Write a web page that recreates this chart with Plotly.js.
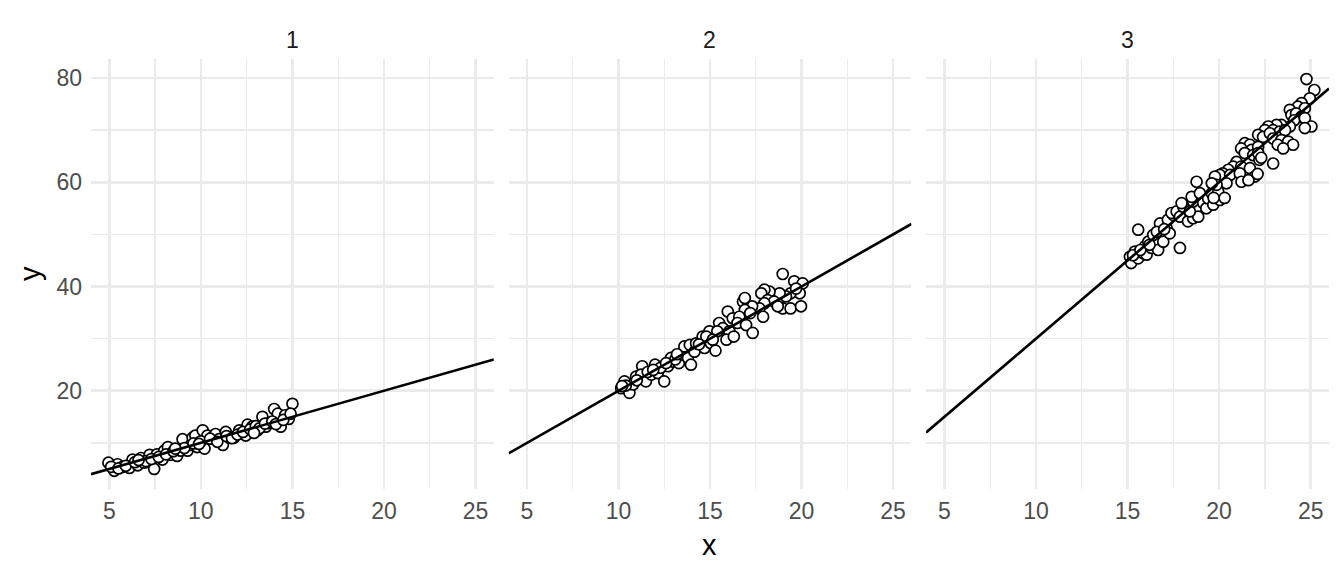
<!DOCTYPE html>
<html>
<head>
<meta charset="utf-8">
<script src="https://cdn.plot.ly/plotly-3.0.1.min.js"></script>
<style>html,body{margin:0;padding:0;background:#fff;}#chart{width:1344px;height:576px;}</style>
</head>
<body>
<div id="chart"></div>
<script>
// Facet labels and fitted line parameters
const facetLabels = ["1", "2", "3"];
const lineIntercept = [0, 0, 0];
const lineSlope = [1, 2, 3];
const xTicks = [5, 10, 15, 20, 25];
const yTicks = [20, 40, 60, 80];

// Panel 1 points
const x1 = [4.95,5.27,5.45,5.7,6.1,6.27,6.55,6.73,6.9,7.2,7.45,7.6,7.9,8.0,8.2,8.35,8.7,8.9,9.0,9.27,9.45,9.55,9.7,9.8,10.1,10.2,10.36,10.6,10.8,11.0,11.2,11.36,11.55,11.8,12.1,12.45,12.55,12.8,13.1,13.36,13.55,13.7,14.0,14.2,14.36,14.6,14.8,15.0,
  5.1,5.5,5.9,6.4,7.0,7.3,7.7,8.1,8.5,9.1,9.6,10.0,10.5,10.9,11.4,11.7,12.0,12.3,12.7,13.0,13.2,13.5,13.9,14.1,14.5,14.9,12.9,9.9,8.6,6.6];
const y1 = [6.2,4.64,5.9,5.35,5.2,6.8,5.7,7.1,6.2,7.7,5.0,7.8,6.8,8.5,9.2,7.7,7.5,8.5,10.7,8.5,9.6,11.0,11.4,9.2,12.4,8.9,11.4,11.0,11.7,10.7,9.6,12.1,11.0,11.0,12.4,11.4,13.5,13.1,12.4,15.0,13.1,13.8,16.5,15.6,13.1,15.3,14.6,17.5,
  5.4,5.1,5.6,6.3,6.5,6.9,7.3,7.8,8.4,9.0,9.9,10.3,10.8,10.2,11.3,10.9,11.6,12.1,12.6,13.2,12.8,13.7,14.1,13.6,14.4,15.6,11.9,9.8,8.9,6.7];

// Panel 2 points
const x2 = [10.15,10.6,10.33,10.8,10.96,11.3,11.24,11.5,11.8,12.0,12.15,12.5,12.7,12.96,12.87,13.3,13.5,13.8,13.96,13.6,13.9,14.15,14.24,14.6,14.7,14.97,15.05,
  18.97,19.6,20.06,19.9,19.4,19.15,18.8,18.25,17.97,17.8,18.15,18.5,18.97,19.4,19.97,18.7,17.97,17.7,17.3,16.8,16.9,17.2,17.9,15.97,16.24,16.6,16.5,16.97,17.33,15.5,15.7,15.4,14.8,15.15,16.06,15.9,16.3,15.3,16.9,19.7,
  10.4,11.0,11.6,12.3,13.1,14.4,13.2,12.6,11.9,10.2];
const y2 = [20.5,19.6,21.8,21.2,22.7,24.7,23.1,21.8,23.1,25.0,23.4,21.8,24.7,25.6,26.3,25.3,26.9,26.3,25.0,28.5,28.8,27.5,29.1,30.4,28.2,31.4,29.1,
  42.4,41.0,40.6,38.7,38.7,38.1,38.7,39.0,39.4,38.7,37.4,37.1,35.8,35.8,36.2,36.2,36.8,35.8,36.2,37.1,35.5,34.9,34.2,35.2,33.9,34.2,33.0,32.6,31.1,33.0,32.0,31.4,30.4,29.8,31.4,29.8,30.4,27.7,37.8,39.6,
  21.0,22.0,23.6,24.4,26.0,28.9,27.0,25.3,24.0,20.9];

// Panel 3 points
const x3 = [15.58,17.86,15.13,15.2,15.4,15.58,15.86,15.95,16.13,16.04,16.3,16.5,16.4,16.67,16.77,16.86,16.95,17.13,17.3,17.2,17.5,17.4,17.68,17.86,18.04,17.95,18.3,18.58,18.77,18.86,18.4,18.58,18.5,18.95,19.13,19.3,19.4,19.6,19.68,20.04,19.95,18.77,
  24.77,25.2,24.95,24.5,24.3,24.68,23.86,23.95,24.2,24.5,24.1,24.68,25.04,24.68,23.86,23.4,23.13,22.68,22.5,22.95,23.3,23.6,22.13,22.4,22.77,22.95,23.4,23.2,23.77,24.04,23.5,21.4,21.68,21.2,21.77,22.13,21.4,21.86,22.2,22.95,22.13,20.95,20.77,21.2,20.5,20.2,20.04,19.77,20.6,21.13,21.68,21.95,21.22,20.4,19.86,19.6,
  20.3,19.7,21.6,22.1,22.3,15.3,15.7,16.2,16.6,17.0];
const y3 = [50.9,47.4,45.7,44.5,46.7,45.4,46.4,47.7,48.6,46.1,47.4,48.9,49.9,47.0,52.1,50.2,48.6,51.2,50.2,52.8,53.7,54.1,54.4,53.4,55.3,56.0,52.5,53.1,55.0,53.4,54.4,56.3,57.2,57.9,56.0,55.0,56.9,57.9,55.7,56.6,58.2,60.1,
  79.8,77.7,76.1,75.2,74.5,74.2,73.9,72.9,73.2,72.6,71.9,72.3,70.7,70.4,70.7,71.0,71.0,70.7,70.0,70.0,69.7,70.0,69.1,68.7,69.4,68.4,68.1,67.2,67.8,67.2,66.5,67.5,67.2,66.5,66.2,66.8,65.6,65.2,64.3,63.6,65.6,63.9,63.0,63.0,62.4,61.7,61.4,61.1,61.4,61.7,62.7,61.1,60.1,59.8,59.5,59.8,
  57.0,57.0,60.4,61.6,64.7,46.0,47.0,48.0,50.5,51.0];

const xs = [x1, x2, x3];
const ys = [y1, y2, y3];

const xRange = [4, 26];
const yRange = [1.15, 83.65];

const FONT = "Liberation Sans, Arial, Helvetica, sans-serif";
const GRID = "#EBEBEB";

const ml = 91, mr = 15, mt = 59, mb = 87;
const W = 1344, H = 576;
const pw = W - ml - mr, ph = H - mt - mb;
const gap = 14.7;
const panelW = (pw - 2 * gap) / 3;
const domains = [0, 1, 2].map(i => [i * (panelW + gap) / pw, (i * (panelW + gap) + panelW) / pw]);

const traces = [];
for (let i = 0; i < 3; i++) {
  const xa = i === 0 ? 'x' : 'x' + (i + 1);
  const ya = i === 0 ? 'y' : 'y' + (i + 1);
  traces.push({
    type: 'scatter', mode: 'markers', x: xs[i], y: ys[i], xaxis: xa, yaxis: ya,
    marker: {size: 11, color: '#FFFFFF', line: {color: '#000000', width: 1.7}},
    hoverinfo: 'x+y', showlegend: false, cliponaxis: false
  });
}
for (let i = 0; i < 3; i++) {
  const xa = i === 0 ? 'x' : 'x' + (i + 1);
  const ya = i === 0 ? 'y' : 'y' + (i + 1);
  traces.push({
    type: 'scatter', mode: 'lines', x: xRange.slice(),
    y: xRange.map(v => lineIntercept[i] + lineSlope[i] * v),
    xaxis: xa, yaxis: ya, line: {color: '#000000', width: 2.6},
    hoverinfo: 'skip', showlegend: false
  });
}

const layout = {
  width: W, height: H,
  margin: {l: ml, r: mr, t: mt, b: mb, pad: 0},
  paper_bgcolor: '#FFFFFF', plot_bgcolor: '#FFFFFF',
  font: {family: FONT, color: '#4D4D4D'},
  showlegend: false,
  annotations: []
};

for (let i = 0; i < 3; i++) {
  const sx = i === 0 ? '' : String(i + 1);
  layout['xaxis' + sx] = {
    domain: domains[i], range: xRange, anchor: 'y' + sx,
    tickmode: 'array', tickvals: xTicks, ticktext: xTicks.map(String),
    showgrid: true, gridcolor: GRID, gridwidth: 2.7,
    minor: {tickmode: 'array', tickvals: [7.5, 12.5, 17.5, 22.5], showgrid: true, gridcolor: GRID, gridwidth: 1.4, ticks: ''},
    zeroline: false, showline: false, ticks: '',
    tickfont: {family: FONT, size: 23, color: '#4D4D4D'},
    ticklabelstandoff: 6
  };
  layout['yaxis' + sx] = {
    domain: [0, 1], range: yRange, anchor: 'x' + sx,
    tickmode: 'array', tickvals: yTicks, ticktext: yTicks.map(String),
    showticklabels: i === 0,
    showgrid: true, gridcolor: GRID, gridwidth: 2.7,
    minor: {tickmode: 'array', tickvals: [10, 30, 50, 70], showgrid: true, gridcolor: GRID, gridwidth: 1.4, ticks: ''},
    zeroline: false, showline: false, ticks: '',
    tickfont: {family: FONT, size: 23, color: '#4D4D4D'},
    ticklabelstandoff: 8
  };
  layout.annotations.push({
    text: facetLabels[i], xref: 'paper', yref: 'paper',
    x: (domains[i][0] + domains[i][1]) / 2, y: 1 + 19 / ph,
    xanchor: 'center', yanchor: 'middle', showarrow: false,
    font: {family: FONT, size: 23, color: '#1A1A1A'}
  });
}
layout.annotations.push({
  text: 'x', xref: 'paper', yref: 'paper', x: (domains[1][0] + domains[1][1]) / 2, y: -(545 - (H - mb)) / ph,
  xanchor: 'center', yanchor: 'middle', showarrow: false,
  font: {family: FONT, size: 29, color: '#000000'}
});
layout.annotations.push({
  text: 'y', xref: 'paper', yref: 'paper', x: (30 - ml) / pw, y: 0.5, textangle: -90,
  xanchor: 'center', yanchor: 'middle', showarrow: false,
  font: {family: FONT, size: 29, color: '#000000'}
});

Plotly.newPlot('chart', traces, layout, {staticPlot: true, displayModeBar: false});
</script>
</body>
</html>
